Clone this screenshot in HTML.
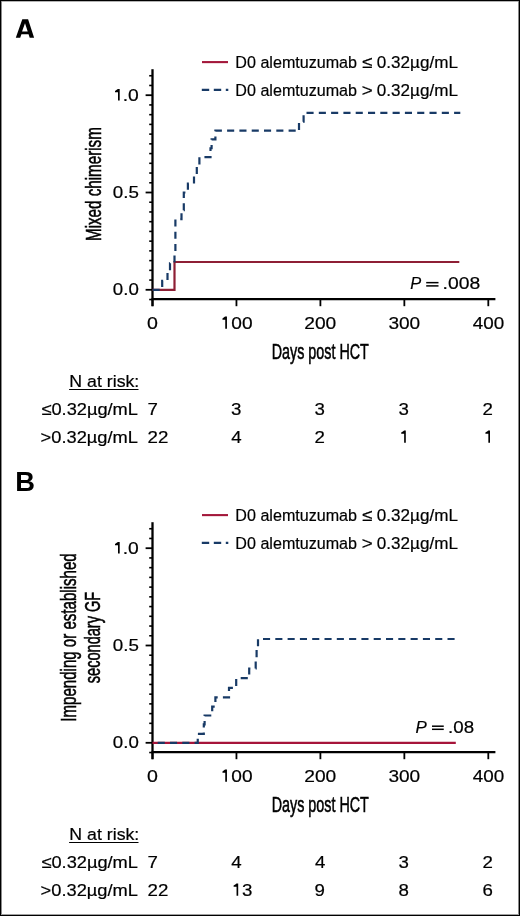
<!DOCTYPE html>
<html><head><meta charset="utf-8"><style>
html,body{margin:0;padding:0;background:#fff;}
body{width:520px;height:916px;overflow:hidden;position:relative;}
svg{position:absolute;left:0;top:0;}
</style></head><body>
<svg style="will-change:transform" width="520" height="916" viewBox="0 0 520 916">
<rect x="0" y="0" width="520" height="916" fill="#fff"/>
<path d="M15.8,37.7 L22.3,19.2 L28.1,19.2 L34.1,37.7 L29.7,37.7 L28.57,34.2 L21.43,34.2 L20.2,37.7 Z M22.05,31.4 L27.72,31.4 L25.0,23.2 Z" fill="#000" fill-rule="evenodd"/>
<line x1="202" y1="62.1" x2="228" y2="62.1" stroke="#a3173a" stroke-width="2.1"/>
<line x1="201.8" y1="89.9" x2="228.3" y2="89.9" stroke="#183a66" stroke-width="2.2" stroke-dasharray="7.4 4.6"/>
<line x1="152.5" y1="69.2" x2="152.5" y2="306.2" stroke="#000" stroke-width="2.3"/>
<line x1="151.5" y1="299.2" x2="495.4" y2="299.2" stroke="#000" stroke-width="2.3"/>
<line x1="149.2" y1="299.53" x2="152.5" y2="299.53" stroke="#000" stroke-width="1.6"/>
<line x1="145.6" y1="289.80" x2="152.5" y2="289.80" stroke="#000" stroke-width="1.8"/>
<line x1="149.2" y1="280.07" x2="152.5" y2="280.07" stroke="#000" stroke-width="1.6"/>
<line x1="149.2" y1="270.34" x2="152.5" y2="270.34" stroke="#000" stroke-width="1.6"/>
<line x1="149.2" y1="260.61" x2="152.5" y2="260.61" stroke="#000" stroke-width="1.6"/>
<line x1="149.2" y1="250.88" x2="152.5" y2="250.88" stroke="#000" stroke-width="1.6"/>
<line x1="149.2" y1="241.15" x2="152.5" y2="241.15" stroke="#000" stroke-width="1.6"/>
<line x1="149.2" y1="231.42" x2="152.5" y2="231.42" stroke="#000" stroke-width="1.6"/>
<line x1="149.2" y1="221.69" x2="152.5" y2="221.69" stroke="#000" stroke-width="1.6"/>
<line x1="149.2" y1="211.96" x2="152.5" y2="211.96" stroke="#000" stroke-width="1.6"/>
<line x1="149.2" y1="202.23" x2="152.5" y2="202.23" stroke="#000" stroke-width="1.6"/>
<line x1="145.6" y1="192.50" x2="152.5" y2="192.50" stroke="#000" stroke-width="1.8"/>
<line x1="149.2" y1="182.77" x2="152.5" y2="182.77" stroke="#000" stroke-width="1.6"/>
<line x1="149.2" y1="173.04" x2="152.5" y2="173.04" stroke="#000" stroke-width="1.6"/>
<line x1="149.2" y1="163.31" x2="152.5" y2="163.31" stroke="#000" stroke-width="1.6"/>
<line x1="149.2" y1="153.58" x2="152.5" y2="153.58" stroke="#000" stroke-width="1.6"/>
<line x1="149.2" y1="143.85" x2="152.5" y2="143.85" stroke="#000" stroke-width="1.6"/>
<line x1="149.2" y1="134.12" x2="152.5" y2="134.12" stroke="#000" stroke-width="1.6"/>
<line x1="149.2" y1="124.39" x2="152.5" y2="124.39" stroke="#000" stroke-width="1.6"/>
<line x1="149.2" y1="114.66" x2="152.5" y2="114.66" stroke="#000" stroke-width="1.6"/>
<line x1="149.2" y1="104.93" x2="152.5" y2="104.93" stroke="#000" stroke-width="1.6"/>
<line x1="145.6" y1="95.20" x2="152.5" y2="95.20" stroke="#000" stroke-width="1.8"/>
<line x1="149.2" y1="85.47" x2="152.5" y2="85.47" stroke="#000" stroke-width="1.6"/>
<line x1="149.2" y1="75.74" x2="152.5" y2="75.74" stroke="#000" stroke-width="1.6"/>
<path d="M119.70,88.90 L119.70,100.60 L118.00,100.60 L118.00,92.20 L115.00,92.20 L115.00,90.90 L117.10,89.60 L117.90,88.90 Z" fill="#000"/>
<line x1="152.50" y1="299.3" x2="152.50" y2="306.2" stroke="#000" stroke-width="1.8"/>
<line x1="236.45" y1="299.3" x2="236.45" y2="306.2" stroke="#000" stroke-width="1.8"/>
<path d="M226.95,316.40 L226.95,328.80 L225.25,328.80 L225.25,319.70 L222.45,319.70 L222.45,318.40 L224.35,317.10 L225.15,316.40 Z" fill="#000"/>
<line x1="320.40" y1="299.3" x2="320.40" y2="306.2" stroke="#000" stroke-width="1.8"/>
<line x1="404.35" y1="299.3" x2="404.35" y2="306.2" stroke="#000" stroke-width="1.8"/>
<line x1="488.30" y1="299.3" x2="488.30" y2="306.2" stroke="#000" stroke-width="1.8"/>
<line x1="69.1" y1="389.5" x2="138.5" y2="389.5" stroke="#000" stroke-width="1.1"/>
<path d="M405.80,430.50 L405.80,442.70 L404.15,442.70 L404.15,433.80 L401.20,433.80 L401.20,432.50 L403.25,431.20 L404.05,430.50 Z" fill="#000"/>
<path d="M490.00,430.50 L490.00,442.70 L488.35,442.70 L488.35,433.80 L485.40,433.80 L485.40,432.50 L487.45,431.20 L488.25,430.50 Z" fill="#000"/>
<rect x="426.2" y="281.90" width="12.30" height="1.5" fill="#000"/>
<rect x="426.2" y="285.15" width="12.30" height="1.5" fill="#000"/>
<line x1="202" y1="515.1" x2="228" y2="515.1" stroke="#a3173a" stroke-width="2.1"/>
<line x1="201.8" y1="542.9" x2="228.3" y2="542.9" stroke="#183a66" stroke-width="2.2" stroke-dasharray="7.4 4.6"/>
<line x1="152.5" y1="522.2" x2="152.5" y2="759.2" stroke="#000" stroke-width="2.3"/>
<line x1="151.5" y1="752.2" x2="495.4" y2="752.2" stroke="#000" stroke-width="2.3"/>
<line x1="149.2" y1="752.53" x2="152.5" y2="752.53" stroke="#000" stroke-width="1.6"/>
<line x1="145.6" y1="742.80" x2="152.5" y2="742.80" stroke="#000" stroke-width="1.8"/>
<line x1="149.2" y1="733.07" x2="152.5" y2="733.07" stroke="#000" stroke-width="1.6"/>
<line x1="149.2" y1="723.34" x2="152.5" y2="723.34" stroke="#000" stroke-width="1.6"/>
<line x1="149.2" y1="713.61" x2="152.5" y2="713.61" stroke="#000" stroke-width="1.6"/>
<line x1="149.2" y1="703.88" x2="152.5" y2="703.88" stroke="#000" stroke-width="1.6"/>
<line x1="149.2" y1="694.15" x2="152.5" y2="694.15" stroke="#000" stroke-width="1.6"/>
<line x1="149.2" y1="684.42" x2="152.5" y2="684.42" stroke="#000" stroke-width="1.6"/>
<line x1="149.2" y1="674.69" x2="152.5" y2="674.69" stroke="#000" stroke-width="1.6"/>
<line x1="149.2" y1="664.96" x2="152.5" y2="664.96" stroke="#000" stroke-width="1.6"/>
<line x1="149.2" y1="655.23" x2="152.5" y2="655.23" stroke="#000" stroke-width="1.6"/>
<line x1="145.6" y1="645.50" x2="152.5" y2="645.50" stroke="#000" stroke-width="1.8"/>
<line x1="149.2" y1="635.77" x2="152.5" y2="635.77" stroke="#000" stroke-width="1.6"/>
<line x1="149.2" y1="626.04" x2="152.5" y2="626.04" stroke="#000" stroke-width="1.6"/>
<line x1="149.2" y1="616.31" x2="152.5" y2="616.31" stroke="#000" stroke-width="1.6"/>
<line x1="149.2" y1="606.58" x2="152.5" y2="606.58" stroke="#000" stroke-width="1.6"/>
<line x1="149.2" y1="596.85" x2="152.5" y2="596.85" stroke="#000" stroke-width="1.6"/>
<line x1="149.2" y1="587.12" x2="152.5" y2="587.12" stroke="#000" stroke-width="1.6"/>
<line x1="149.2" y1="577.39" x2="152.5" y2="577.39" stroke="#000" stroke-width="1.6"/>
<line x1="149.2" y1="567.66" x2="152.5" y2="567.66" stroke="#000" stroke-width="1.6"/>
<line x1="149.2" y1="557.93" x2="152.5" y2="557.93" stroke="#000" stroke-width="1.6"/>
<line x1="145.6" y1="548.20" x2="152.5" y2="548.20" stroke="#000" stroke-width="1.8"/>
<line x1="149.2" y1="538.47" x2="152.5" y2="538.47" stroke="#000" stroke-width="1.6"/>
<line x1="149.2" y1="528.74" x2="152.5" y2="528.74" stroke="#000" stroke-width="1.6"/>
<path d="M119.70,541.90 L119.70,553.60 L118.00,553.60 L118.00,545.20 L115.00,545.20 L115.00,543.90 L117.10,542.60 L117.90,541.90 Z" fill="#000"/>
<line x1="152.50" y1="752.3" x2="152.50" y2="759.2" stroke="#000" stroke-width="1.8"/>
<line x1="236.45" y1="752.3" x2="236.45" y2="759.2" stroke="#000" stroke-width="1.8"/>
<path d="M226.95,769.40 L226.95,781.80 L225.25,781.80 L225.25,772.70 L222.45,772.70 L222.45,771.40 L224.35,770.10 L225.15,769.40 Z" fill="#000"/>
<line x1="320.40" y1="752.3" x2="320.40" y2="759.2" stroke="#000" stroke-width="1.8"/>
<line x1="404.35" y1="752.3" x2="404.35" y2="759.2" stroke="#000" stroke-width="1.8"/>
<line x1="488.30" y1="752.3" x2="488.30" y2="759.2" stroke="#000" stroke-width="1.8"/>
<line x1="69.1" y1="842.5" x2="138.5" y2="842.5" stroke="#000" stroke-width="1.1"/>
<path d="M238.20,883.50 L238.20,895.70 L236.55,895.70 L236.55,886.80 L233.60,886.80 L233.60,885.50 L235.65,884.20 L236.45,883.50 Z" fill="#000"/>
<rect x="432.0" y="725.45" width="11.75" height="1.5" fill="#000"/>
<rect x="432.0" y="728.55" width="11.75" height="1.5" fill="#000"/>
<path d="M152.50,289.80 L174.50,289.80 L174.50,262.00 L459.30,262.00" fill="none" stroke="#8e1f35" stroke-width="2.2"/>
<path d="M152.50,289.80 L162.20,289.80 L162.20,280.95 L167.50,280.95 L167.50,272.11 L170.00,272.11 L170.00,263.26 L174.50,263.26 L174.50,254.42 L175.40,254.42 L175.40,219.04 L181.50,219.04 L181.50,210.19 L183.80,210.19 L183.80,192.50 L187.90,192.50 L187.90,183.65 L194.00,183.65 L194.00,174.81 L196.80,174.81 L196.80,165.96 L199.40,165.96 L199.40,157.12 L210.50,157.12 L210.50,148.27 L211.60,148.27 L211.60,139.43 L215.40,139.43 L215.40,130.58 L299.00,130.58" fill="none" stroke="#183a66" stroke-width="2.2" stroke-dasharray="7.1 5.2" stroke-dashoffset="12.18"/>
<path d="M299.00,130.58 L299.00,121.74 L303.60,121.74 L303.60,112.89 L460.30,112.89" fill="none" stroke="#183a66" stroke-width="2.2" stroke-dasharray="7.1 5.2" stroke-dashoffset="11.71"/>
<path d="M152.50,742.80 L455.80,742.80" fill="none" stroke="#a6143a" stroke-width="2.2"/>
<path d="M152.50,742.80 L197.75,742.80 L197.75,733.80 L203.80,733.80 L203.80,724.30 L204.60,724.30 L204.60,715.50 L212.20,715.50 L212.20,706.60 L215.40,706.60 L215.40,697.30 L229.00,697.30 L229.00,687.90 L236.20,687.90 L236.20,678.20 L249.20,678.20 L249.20,668.50 L255.70,668.50 L255.70,659.50 L256.60,659.50 L256.60,650.00 L258.00,650.00 L258.00,639.00 L454.80,639.00" fill="none" stroke="#183a66" stroke-width="2.2" stroke-dasharray="7.1 5.2" stroke-dashoffset="7.10"/>
<g font-family="'Liberation Sans', sans-serif" fill="#000">
<text x="235.37" y="67.90" font-size="16.9" textLength="121.65" lengthAdjust="spacingAndGlyphs" stroke="#000" stroke-width="0.2">D0 alemtuzumab</text>
<text x="362.05" y="67.90" font-size="16.9" textLength="10.29" lengthAdjust="spacingAndGlyphs" stroke="#000" stroke-width="0.2">&#8804;</text>
<text x="376.79" y="67.90" font-size="16.9" textLength="81.12" lengthAdjust="spacingAndGlyphs" stroke="#000" stroke-width="0.2">0.32&#181;g/mL</text>
<text x="235.37" y="95.60" font-size="16.9" textLength="121.65" lengthAdjust="spacingAndGlyphs" stroke="#000" stroke-width="0.2">D0 alemtuzumab</text>
<text x="361.71" y="95.60" font-size="16.9" textLength="10.95" lengthAdjust="spacingAndGlyphs" stroke="#000" stroke-width="0.2">&gt;</text>
<text x="376.79" y="95.60" font-size="16.9" textLength="81.12" lengthAdjust="spacingAndGlyphs" stroke="#000" stroke-width="0.2">0.32&#181;g/mL</text>
<text x="112.83" y="295.10" font-size="17" textLength="25.96" lengthAdjust="spacingAndGlyphs" stroke="#000" stroke-width="0.2">0.0</text>
<text x="112.83" y="197.80" font-size="17" textLength="26.08" lengthAdjust="spacingAndGlyphs" stroke="#000" stroke-width="0.2">0.5</text>
<text x="122.78" y="100.50" font-size="17" textLength="16.08" lengthAdjust="spacingAndGlyphs" stroke="#000" stroke-width="0.2">.0</text>
<text x="147.06" y="328.70" font-size="17.3" textLength="10.91" lengthAdjust="spacingAndGlyphs" stroke="#000" stroke-width="0.2">0</text>
<text x="231.38" y="328.70" font-size="17.3" textLength="21.29" lengthAdjust="spacingAndGlyphs" stroke="#000" stroke-width="0.2">00</text>
<text x="304.25" y="328.70" font-size="17.3" textLength="32.04" lengthAdjust="spacingAndGlyphs" stroke="#000" stroke-width="0.2">200</text>
<text x="388.43" y="328.70" font-size="17.3" textLength="31.80" lengthAdjust="spacingAndGlyphs" stroke="#000" stroke-width="0.2">300</text>
<text x="472.71" y="328.70" font-size="17.3" textLength="31.46" lengthAdjust="spacingAndGlyphs" stroke="#000" stroke-width="0.2">400</text>
<text x="271.63" y="359.00" font-size="22" textLength="97.23" lengthAdjust="spacingAndGlyphs" stroke="#000" stroke-width="0.55">Days post HCT</text>
<text x="69.36" y="387.20" font-size="17.2" textLength="69.94" lengthAdjust="spacingAndGlyphs" stroke="#000" stroke-width="0.2">N at risk:</text>
<text x="41.46" y="414.90" font-size="17" textLength="96.49" lengthAdjust="spacingAndGlyphs" stroke="#000" stroke-width="0.2">&#8804;0.32&#181;g/mL</text>
<text x="40.64" y="442.50" font-size="17" textLength="97.31" lengthAdjust="spacingAndGlyphs" stroke="#000" stroke-width="0.2">&gt;0.32&#181;g/mL</text>
<text x="147.61" y="414.90" font-size="17" textLength="10.40" lengthAdjust="spacingAndGlyphs" stroke="#000" stroke-width="0.2">7</text>
<text x="231.03" y="414.90" font-size="17" textLength="10.40" lengthAdjust="spacingAndGlyphs" stroke="#000" stroke-width="0.2">3</text>
<text x="314.63" y="414.90" font-size="17" textLength="10.40" lengthAdjust="spacingAndGlyphs" stroke="#000" stroke-width="0.2">3</text>
<text x="398.63" y="414.90" font-size="17" textLength="10.40" lengthAdjust="spacingAndGlyphs" stroke="#000" stroke-width="0.2">3</text>
<text x="482.61" y="414.90" font-size="17" textLength="10.40" lengthAdjust="spacingAndGlyphs" stroke="#000" stroke-width="0.2">2</text>
<text x="147.61" y="442.50" font-size="17" textLength="20.80" lengthAdjust="spacingAndGlyphs" stroke="#000" stroke-width="0.2">22</text>
<text x="231.36" y="442.50" font-size="17" textLength="10.40" lengthAdjust="spacingAndGlyphs" stroke="#000" stroke-width="0.2">4</text>
<text x="314.41" y="442.50" font-size="17" textLength="10.40" lengthAdjust="spacingAndGlyphs" stroke="#000" stroke-width="0.2">2</text>
<text x="410.31" y="289.20" font-size="16.9" font-style="italic" textLength="10.96" lengthAdjust="spacingAndGlyphs" stroke="#000" stroke-width="0.2">P</text>
<text x="442.59" y="289.20" font-size="16.9" textLength="37.61" lengthAdjust="spacingAndGlyphs" stroke="#000" stroke-width="0.2">.008</text>
<text x="15.37" y="490.80" font-size="26.8" font-weight="700" textLength="19.71" lengthAdjust="spacingAndGlyphs">B</text>
<text x="235.37" y="520.90" font-size="16.9" textLength="121.65" lengthAdjust="spacingAndGlyphs" stroke="#000" stroke-width="0.2">D0 alemtuzumab</text>
<text x="362.05" y="520.90" font-size="16.9" textLength="10.29" lengthAdjust="spacingAndGlyphs" stroke="#000" stroke-width="0.2">&#8804;</text>
<text x="376.79" y="520.90" font-size="16.9" textLength="81.12" lengthAdjust="spacingAndGlyphs" stroke="#000" stroke-width="0.2">0.32&#181;g/mL</text>
<text x="235.37" y="548.60" font-size="16.9" textLength="121.65" lengthAdjust="spacingAndGlyphs" stroke="#000" stroke-width="0.2">D0 alemtuzumab</text>
<text x="361.71" y="548.60" font-size="16.9" textLength="10.95" lengthAdjust="spacingAndGlyphs" stroke="#000" stroke-width="0.2">&gt;</text>
<text x="376.79" y="548.60" font-size="16.9" textLength="81.12" lengthAdjust="spacingAndGlyphs" stroke="#000" stroke-width="0.2">0.32&#181;g/mL</text>
<text x="112.83" y="748.10" font-size="17" textLength="25.96" lengthAdjust="spacingAndGlyphs" stroke="#000" stroke-width="0.2">0.0</text>
<text x="112.83" y="650.80" font-size="17" textLength="26.08" lengthAdjust="spacingAndGlyphs" stroke="#000" stroke-width="0.2">0.5</text>
<text x="122.78" y="553.50" font-size="17" textLength="16.08" lengthAdjust="spacingAndGlyphs" stroke="#000" stroke-width="0.2">.0</text>
<text x="147.06" y="781.70" font-size="17.3" textLength="10.91" lengthAdjust="spacingAndGlyphs" stroke="#000" stroke-width="0.2">0</text>
<text x="231.38" y="781.70" font-size="17.3" textLength="21.29" lengthAdjust="spacingAndGlyphs" stroke="#000" stroke-width="0.2">00</text>
<text x="304.25" y="781.70" font-size="17.3" textLength="32.04" lengthAdjust="spacingAndGlyphs" stroke="#000" stroke-width="0.2">200</text>
<text x="388.43" y="781.70" font-size="17.3" textLength="31.80" lengthAdjust="spacingAndGlyphs" stroke="#000" stroke-width="0.2">300</text>
<text x="472.71" y="781.70" font-size="17.3" textLength="31.46" lengthAdjust="spacingAndGlyphs" stroke="#000" stroke-width="0.2">400</text>
<text x="271.63" y="812.00" font-size="22" textLength="97.23" lengthAdjust="spacingAndGlyphs" stroke="#000" stroke-width="0.55">Days post HCT</text>
<text x="69.36" y="840.20" font-size="17.2" textLength="69.94" lengthAdjust="spacingAndGlyphs" stroke="#000" stroke-width="0.2">N at risk:</text>
<text x="41.46" y="867.90" font-size="17" textLength="96.49" lengthAdjust="spacingAndGlyphs" stroke="#000" stroke-width="0.2">&#8804;0.32&#181;g/mL</text>
<text x="40.64" y="895.50" font-size="17" textLength="97.31" lengthAdjust="spacingAndGlyphs" stroke="#000" stroke-width="0.2">&gt;0.32&#181;g/mL</text>
<text x="147.61" y="867.90" font-size="17" textLength="10.40" lengthAdjust="spacingAndGlyphs" stroke="#000" stroke-width="0.2">7</text>
<text x="231.36" y="867.90" font-size="17" textLength="10.40" lengthAdjust="spacingAndGlyphs" stroke="#000" stroke-width="0.2">4</text>
<text x="314.96" y="867.90" font-size="17" textLength="10.40" lengthAdjust="spacingAndGlyphs" stroke="#000" stroke-width="0.2">4</text>
<text x="398.63" y="867.90" font-size="17" textLength="10.40" lengthAdjust="spacingAndGlyphs" stroke="#000" stroke-width="0.2">3</text>
<text x="482.61" y="867.90" font-size="17" textLength="10.40" lengthAdjust="spacingAndGlyphs" stroke="#000" stroke-width="0.2">2</text>
<text x="147.61" y="895.50" font-size="17" textLength="20.80" lengthAdjust="spacingAndGlyphs" stroke="#000" stroke-width="0.2">22</text>
<text x="241.93" y="895.50" font-size="17" textLength="10.40" lengthAdjust="spacingAndGlyphs" stroke="#000" stroke-width="0.2">3</text>
<text x="314.52" y="895.50" font-size="17" textLength="10.40" lengthAdjust="spacingAndGlyphs" stroke="#000" stroke-width="0.2">9</text>
<text x="398.63" y="895.50" font-size="17" textLength="10.40" lengthAdjust="spacingAndGlyphs" stroke="#000" stroke-width="0.2">8</text>
<text x="482.61" y="895.50" font-size="17" textLength="10.40" lengthAdjust="spacingAndGlyphs" stroke="#000" stroke-width="0.2">6</text>
<text x="415.60" y="732.50" font-size="16.9" font-style="italic" textLength="11.27" lengthAdjust="spacingAndGlyphs" stroke="#000" stroke-width="0.2">P</text>
<text x="448.04" y="732.50" font-size="16.9" textLength="26.03" lengthAdjust="spacingAndGlyphs" stroke="#000" stroke-width="0.2">.08</text>
<text transform="translate(100.50,241.02) rotate(-90)" font-size="22.4" textLength="113.88" lengthAdjust="spacingAndGlyphs" stroke="#000" stroke-width="0.55">Mixed chimerism</text>
<text transform="translate(75.60,721.71) rotate(-90)" font-size="22.4" textLength="168.42" lengthAdjust="spacingAndGlyphs" stroke="#000" stroke-width="0.55">Impending or established</text>
<text transform="translate(100.20,683.19) rotate(-90)" font-size="22.4" textLength="91.46" lengthAdjust="spacingAndGlyphs" stroke="#000" stroke-width="0.55">secondary GF</text>
</g>
<rect x="0" y="1" width="520" height="1" fill="#b4b4b4"/>
<rect x="1" y="0" width="1" height="916" fill="#8c8c8c"/>
<rect x="518" y="0" width="1" height="916" fill="#888"/>
<rect x="0" y="914" width="520" height="1" fill="#a0a0a0"/>
<rect x="0" y="0" width="520" height="1" fill="#000"/>
<rect x="0" y="0" width="1" height="916" fill="#000"/>
<rect x="519" y="0" width="1" height="916" fill="#000"/>
<rect x="0" y="915" width="520" height="1" fill="#000"/>
</svg>
</body></html>
